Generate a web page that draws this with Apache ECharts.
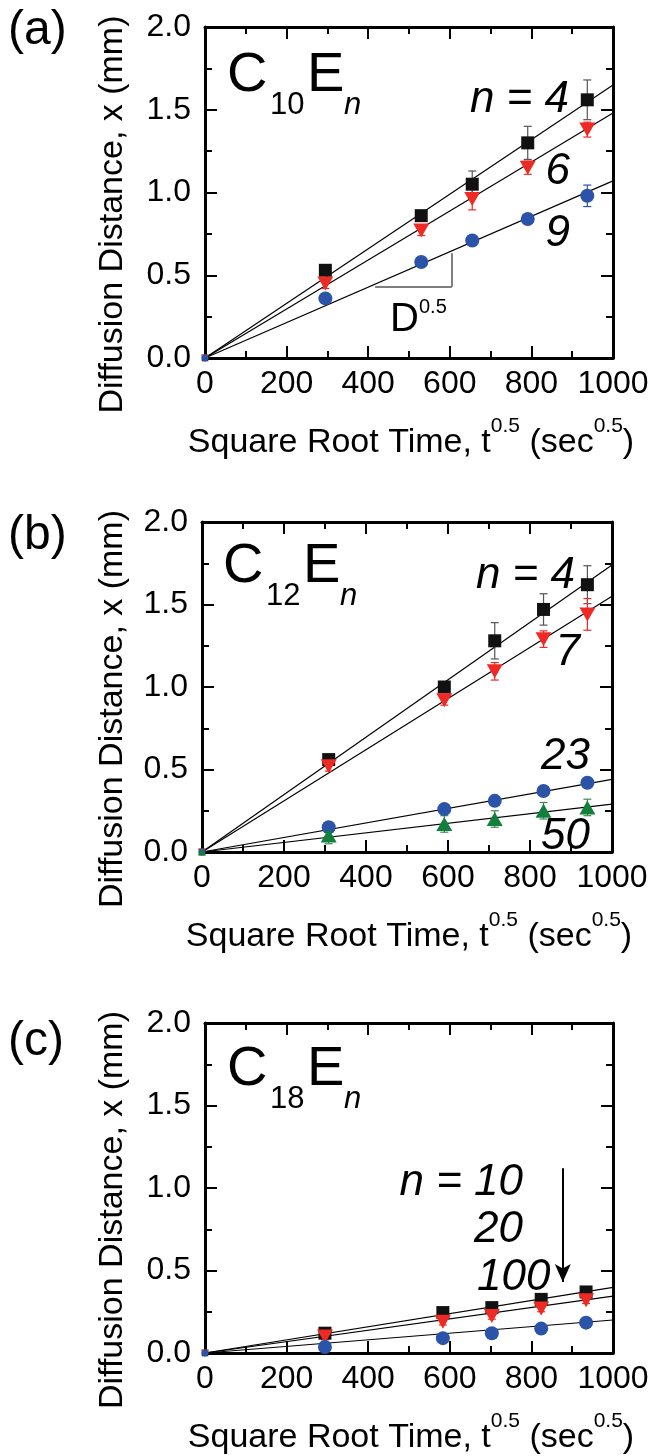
<!DOCTYPE html>
<html>
<head>
<meta charset="utf-8">
<script src="https://cdn.jsdelivr.net/npm/echarts@6/dist/echarts.min.js"></script>
<style>
  html, body { margin: 0; padding: 0; background: #fff; }
  #main { width: 654px; height: 1456px; }
</style>
</head>
<body>
<div id="main"></div>
<script>
// (a) C10En : x = sqrt(t) (sec^0.5), y = diffusion distance (mm)
const xA  = [0, 295, 530, 655, 791, 937];
const yA4 = [0, 0.53, 0.86, 1.05, 1.30, 1.56];
const eA4 = [0, 0.03, 0.03, 0.08, 0.10, 0.12];
const yA6 = [0, 0.45, 0.77, 0.96, 1.15, 1.38];
const eA6 = [0, 0.03, 0.03, 0.065, 0.04, 0.045];
const yA9 = [0, 0.36, 0.58, 0.71, 0.84, 0.98];
const eA9 = [0, 0.01, 0.01, 0.01, 0.02, 0.065];
const fitA = [1.65, 1.48, 1.07];          // fit value at x = 1000

// (b) C12En
const xB   = [0, 309, 591, 714, 833, 940];
const yB4  = [0, 0.56, 1.00, 1.28, 1.47, 1.62];
const eB4  = [0, 0.02, 0.02, 0.11, 0.095, 0.115];
const yB7  = [0, 0.52, 0.92, 1.095, 1.29, 1.44];
const eB7  = [0, 0.03, 0.03, 0.053, 0.05, 0.096];
const yB23 = [0, 0.15, 0.26, 0.31, 0.37, 0.42];
const eB23 = [0, 0.01, 0.01, 0.01, 0.01, 0.01];
const yB50 = [0, 0.10, 0.17, 0.20, 0.25, 0.27];
const eB50 = [0, 0.05, 0.05, 0.05, 0.05, 0.05];
const fitB = [1.74, 1.55, 0.44, 0.29];

// (c) C18En
const xC    = [0, 294, 583, 703, 824, 934];
const yC10  = [0, 0.12, 0.245, 0.275, 0.325, 0.37];
const eC10  = [0, 0.02, 0.02, 0.02, 0.02, 0.02];
const yC20  = [0, 0.10, 0.19, 0.225, 0.27, 0.32];
const eC20  = [0, 0.02, 0.02, 0.02, 0.02, 0.02];
const yC100 = [0, 0.036, 0.09, 0.12, 0.148, 0.184];
const eC100 = [0, 0.01, 0.01, 0.01, 0.01, 0.01];
const fitC = [0.398, 0.345, 0.2];

// annotations (data coords)
const slopeA = [[417, 0.43], [605, 0.43], [605, 0.633]];
const arrowC = [[877, 1.12], [877, 0.43]];

const xTicks = [0, 1000, 200];   // min, max, interval
const yTicks = [0, 2, 0.5];

const FONT = '"Liberation Sans", Arial, sans-serif';
const BLACK = '#111', RED = '#ee2a24', BLUE = '#2b53a8', GREEN = '#12803c';

const MK = {
  sq:   { symbol: 'rect', size: 13, rot: 0, color: BLACK, err: '#555' },
  dn:   { symbol: 'triangle', size: [16, 14], rot: 180, color: RED, err: RED },
  ci:   { symbol: 'circle', size: 14, rot: 0, color: BLUE, err: BLUE },
  up:   { symbol: 'triangle', size: [16, 14], rot: 0, color: GREEN, err: '#3a8a50' }
};

const gridBox = [
  { left: 205, top: 27,   width: 408, height: 331 },
  { left: 202, top: 522,  width: 410, height: 330 },
  { left: 205, top: 1023, width: 408, height: 330 }
];

const grid = [], xAxis = [], yAxis = [], series = [];

const tickLine = { color: '#000', width: 2 };
gridBox.forEach((g, i) => {
  grid.push(Object.assign({ containLabel: false, outerBoundsMode: 'none' }, g));
  ['bottom', 'top'].forEach(pos => xAxis.push({
    type: 'value', gridIndex: i, position: pos,
    min: xTicks[0], max: xTicks[1], interval: xTicks[2],
    axisLine: { show: true, onZero: false, lineStyle: { color: '#000', width: 3 } },
    axisTick: { show: true, inside: true, length: 12, lineStyle: tickLine },
    minorTick: { show: true, splitNumber: 2, length: 7, lineStyle: tickLine },
    splitLine: { show: false }, minorSplitLine: { show: false },
    axisLabel: { show: pos === 'bottom', color: '#000', fontSize: 32, fontFamily: FONT, margin: 10,
                 formatter: v => String(v), hideOverlap: false }
  }));
  ['left', 'right'].forEach(pos => yAxis.push({
    type: 'value', gridIndex: i, position: pos,
    min: yTicks[0], max: yTicks[1], interval: yTicks[2],
    axisLine: { show: true, onZero: false, lineStyle: { color: '#000', width: 3 } },
    axisTick: { show: true, inside: true, length: 12, lineStyle: tickLine },
    minorTick: { show: true, splitNumber: 2, length: 7, lineStyle: tickLine },
    splitLine: { show: false }, minorSplitLine: { show: false },
    axisLabel: { show: pos === 'left', color: '#000', fontSize: 32, fontFamily: FONT, margin: 14,
                 formatter: v => v.toFixed(1), hideOverlap: false }
  }));
});

// vertical error bar with small caps
const errBar = color => (params, api) => {
  const x = api.value(0), y = api.value(1), e = api.value(2);
  if (!e) return null;
  const hi = api.coord([x, y + e]), lo = api.coord([x, y - e]);
  const w = 4, st = { stroke: color, lineWidth: 1.2 };
  return { type: 'group', children: [
    { type: 'line', shape: { x1: hi[0], y1: hi[1], x2: lo[0], y2: lo[1] }, style: st },
    { type: 'line', shape: { x1: hi[0] - w, y1: hi[1], x2: hi[0] + w, y2: hi[1] }, style: st },
    { type: 'line', shape: { x1: lo[0] - w, y1: lo[1], x2: lo[0] + w, y2: lo[1] }, style: st }
  ] };
};

const halfSize = s => Array.isArray(s) ? s.map(v => v / 2) : s / 2;

function addSet(pi, xs, ys, es, fitEnd, mk) {
  const ax = { xAxisIndex: 2 * pi, yAxisIndex: 2 * pi };
  series.push(Object.assign({
    type: 'line', data: [[0, 0], [1000, fitEnd]], symbol: 'none', silent: true, z: 2,
    lineStyle: { color: '#000', width: 1.2 }
  }, ax));
  series.push(Object.assign({
    type: 'custom', data: xs.map((x, k) => [x, ys[k], es[k]]), renderItem: errBar(mk.err),
    silent: true, z: 3, clip: true
  }, ax));
  series.push(Object.assign({
    type: 'scatter',
    // the origin point sits in the corner of the frame: draw it smaller
    data: xs.map((x, k) => x === 0 ? { value: [x, ys[k]], symbolSize: halfSize(mk.size) } : [x, ys[k]]),
    symbol: mk.symbol, symbolSize: mk.size,
    symbolRotate: mk.rot, itemStyle: { color: mk.color, opacity: 1 }, silent: true, z: 4, clip: true
  }, ax));
}

addSet(0, xA, yA4, eA4, fitA[0], MK.sq);
addSet(0, xA, yA6, eA6, fitA[1], MK.dn);
addSet(0, xA, yA9, eA9, fitA[2], MK.ci);

addSet(1, xB, yB4, eB4, fitB[0], MK.sq);
addSet(1, xB, yB7, eB7, fitB[1], MK.dn);
addSet(1, xB, yB23, eB23, fitB[2], MK.ci);
addSet(1, xB, yB50, eB50, fitB[3], MK.up);

addSet(2, xC, yC10, eC10, fitC[0], MK.sq);
addSet(2, xC, yC20, eC20, fitC[1], MK.dn);
addSet(2, xC, yC100, eC100, fitC[2], MK.ci);

// slope triangle in (a)
series.push({
  type: 'line', xAxisIndex: 0, yAxisIndex: 0, data: [], silent: true,
  markLine: {
    silent: true, symbol: ['none', 'none'], label: { show: false }, animation: false,
    lineStyle: { color: '#555', width: 1.5, type: 'solid' },
    data: [
      [{ coord: slopeA[0] }, { coord: slopeA[1] }],
      [{ coord: slopeA[1] }, { coord: slopeA[2] }]
    ]
  }
});
// arrow in (c)
series.push({
  type: 'line', xAxisIndex: 4, yAxisIndex: 4, data: [], silent: true,
  markLine: {
    silent: true, label: { show: false }, animation: false,
    lineStyle: { color: '#000', width: 2, type: 'solid' },
    data: [[
      { coord: arrowC[0], symbol: 'none' },
      { coord: arrowC[1], symbol: 'arrow', symbolSize: [12, 18] }
    ]]
  }
});

// ---- texts ----
const T = (x, y, text, size, extra) => ({
  type: 'text', x, y, silent: true, z: 10,
  style: Object.assign({ text, fontSize: size, fontFamily: FONT, fill: '#000', align: 'left', verticalAlign: 'middle' }, extra || {})
});

const graphic = [];
const panelLetters = [['(a)', 31], ['(b)', 536], ['(c)', 1042]];
panelLetters.forEach(([t, y]) => graphic.push(T(8, y, t, 48)));

// CxEn formula labels
const formulas = [
  { sub: '10', x: 227, y: 76 },
  { sub: '12', x: 223, y: 567 },
  { sub: '18', x: 227, y: 1070 }
];
formulas.forEach(f => {
  graphic.push(T(f.x, f.y, 'C', 56));
  graphic.push(T(f.x + 43, f.y + 29, f.sub, 31));
  graphic.push(T(f.x + 80, f.y, 'E', 56));
  graphic.push(T(f.x + 117, f.y + 29, 'n', 31, { fontStyle: 'italic' }));
});

// axis titles
gridBox.forEach(g => {
  graphic.push({
    type: 'text', x: g.left + g.width / 2 + 2, y: g.top + g.height + 80, silent: true,
    style: {
      text: '{m|Square Root Time, t}{s|0.5}{m| (sec}{s|0.5}{m|)}',
      align: 'center', verticalAlign: 'middle', fill: '#000',
      rich: {
        m: { fontSize: 34, fontFamily: FONT, lineHeight: 44, verticalAlign: 'bottom', fill: '#000' },
        s: { fontSize: 21, fontFamily: FONT, lineHeight: 16, verticalAlign: 'top', fill: '#000' }
      }
    }
  });
  graphic.push({
    type: 'text', x: 113, y: g.top + g.height / 2 + 22, rotation: Math.PI / 2, silent: true,
    style: { text: 'Diffusion Distance, x (mm)', fontSize: 34, fontFamily: FONT, fill: '#000',
             align: 'center', verticalAlign: 'middle' }
  });
});

// D^0.5 in (a)
graphic.push(T(390, 320, 'D', 40));
graphic.push(T(419, 307, '0.5', 20));

// series labels
const IT = { fontStyle: 'italic', align: 'right' };
[
  [569, 100, 'n = 4'], [570, 172, '6'], [570, 234, '9'],
  [575, 576, 'n = 4'], [580, 653, '7'], [590, 757, '23'], [590, 837, '50'],
  [523, 1183, 'n = 10'], [523, 1230, '20']
].forEach(([x, y, t]) => graphic.push(T(x, y, t, 44, IT)));
graphic.push(T(477, 1278, '100', 44, { fontStyle: 'italic' }));

const chart = echarts.init(document.getElementById('main'), null, { renderer: 'canvas' });
chart.setOption({
  backgroundColor: '#fff',
  animation: false,
  grid, xAxis, yAxis, series, graphic
});
</script>
</body>
</html>
